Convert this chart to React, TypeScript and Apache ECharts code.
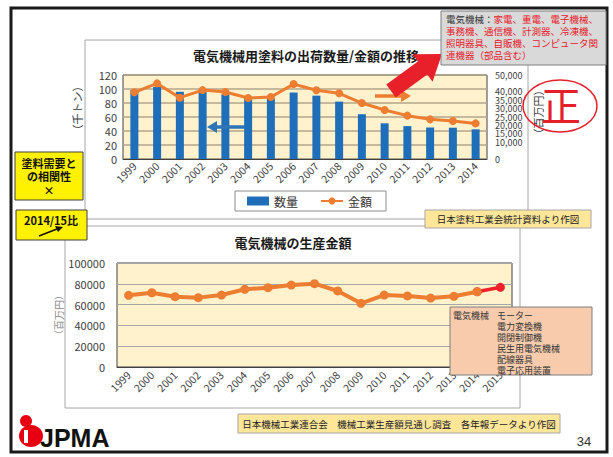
import React, { useEffect, useRef } from "react";
import * as echarts from "echarts";

const years1 = ["1999","2000","2001","2002","2003","2004","2005","2006","2007","2008","2009","2010","2011","2012","2013","2014"];
const quantity = [98.6, 103, 96, 96, 92.4, 86.7, 86.7, 95, 90.5, 82, 64, 51, 47, 45, 44.7, 42.4];
const amount = [39700, 45000, 36500, 41000, 39900, 36300, 36900, 44600, 40900, 39100, 33300, 29200, 25800, 23600, 22600, 21200];
const years2 = [...years1, "2015"];
const production = [68900, 71400, 67600, 66700, 69200, 74700, 76300, 78800, 80100, 73100, 61200, 69200, 68300, 66300, 68000, 72400, 76600];

const FONT = "'Noto Sans CJK JP', 'Noto Sans', sans-serif";
const AX = "#404040";

function txt(x: number, y: number, text: string, o: any = {}) {
  const { rotation, z, ...style } = o;
  return {
    type: "text", x, y, rotation: rotation || 0, z: z ?? 100,
    style: {
      text, fontFamily: FONT, fontSize: 12, fill: "#222",
      align: "center", verticalAlign: "middle",
      textAlign: "center", textVerticalAlign: "middle",
      ...style,
    },
  };
}
function rect(x: number, y: number, w: number, h: number, fill: string, stroke: string, lw = 1, z = 90) {
  return { type: "rect", z, shape: { x, y, width: w, height: h }, style: { fill, stroke, lineWidth: lw } };
}
function line(x1: number, y1: number, x2: number, y2: number, stroke: string, lw = 1, z = 1) {
  return { type: "line", z, shape: { x1, y1, x2, y2 }, style: { stroke, lineWidth: lw } };
}

export default function App() {
  const ref = useRef<HTMLDivElement>(null);
  useEffect(() => {
    if (!ref.current) return;
    const chart = echarts.init(ref.current, null, { renderer: "svg" });

    // big red arrow polygon
    const T = [391, 91], tip = [442, 54];
    const dx = tip[0] - T[0], dy = tip[1] - T[1];
    const L = Math.hypot(dx, dy);
    const u = [dx / L, dy / L], n = [-u[1], u[0]];
    const hl = 24, sw = 8, hw = 17;
    const B = [tip[0] - hl * u[0], tip[1] - hl * u[1]];
    const P = (p: number[], k: number) => [p[0] + k * n[0], p[1] + k * n[1]];
    const arrowPts = [P(T, sw), P(B, sw), P(B, hw), tip, P(B, -hw), P(B, -sw), P(T, -sw)];

    const graphics: any[] = [
      // slide border
      { type: "rect", z: 0, shape: { x: 11, y: 8, width: 596, height: 444 }, style: { fill: "none", stroke: "#1a1a1a", lineWidth: 3 } },
      // chart frames
      line(85, 40, 441, 40, "#A6A6A6"),
      line(85, 40, 85, 219, "#A6A6A6"),
      line(85, 219, 425, 219, "#A6A6A6"),
      line(528, 65, 528, 210, "#A6A6A6"),
      line(65, 226, 425, 226, "#A6A6A6"),
      line(65, 226, 65, 408, "#A6A6A6"),
      line(65, 408, 520, 408, "#A6A6A6"),
      line(520, 228, 520, 408, "#A6A6A6"),
      // titles
      txt(306, 55, "電気機械用塗料の出荷数量/金額の推移", { fontSize: 13, fontWeight: "bold", fill: "#1a1a1a" }),
      txt(293, 242, "電気機械の生産金額", { fontSize: 13, fontWeight: "bold", fill: "#1a1a1a" }),
      // axis names
      txt(77, 108, "（千トン）", { fontSize: 11, fill: AX, rotation: Math.PI / 2 }),
      txt(538, 112, "（百万円）", { fontSize: 11, fill: AX, rotation: Math.PI / 2 }),
      txt(58, 315, "（百万円）", { fontSize: 10, fill: "#8a8a8a", rotation: Math.PI / 2 }),
      // blue arrow
      line(245, 127, 215, 127, "#2E75B6", 3.5, 100),
      { type: "polygon", z: 100, shape: { points: [[207, 127], [217, 121], [217, 133]] }, style: { fill: "#2E75B6" } },
      // orange arrow
      line(375, 96, 402, 96, "#ED7D31", 3.5, 100),
      { type: "polygon", z: 100, shape: { points: [[411, 96], [401, 90], [401, 102]] }, style: { fill: "#ED7D31" } },
      // red big arrow
      { type: "polygon", z: 100, shape: { points: arrowPts }, style: { fill: "#E8202A" } },
      // top annotation box
      rect(441, 11, 165, 54, "#D9D9D9", "#7F7F7F", 1, 110),
      {
        type: "text", z: 111, x: 446, y: 13,
        style: {
          text: "{k|電気機械：}{r|家電、重電、電子機械、}\n{r|事務機、通信機、計測器、冷凍機、}\n{r|照明器具、自販機、コンピュータ関}\n{r|連機器（部品含む）}",
          fontFamily: FONT, fontSize: 9.5, lineHeight: 12,
          rich: {
            k: { fill: "#333", fontFamily: FONT, fontSize: 9.5, lineHeight: 12 },
            r: { fill: "#E5202A", fontFamily: FONT, fontSize: 9.5, lineHeight: 12 },
          },
        },
      },
      // 正 stamp
      { type: "ellipse", z: 100, shape: { cx: 560, cy: 106, rx: 37, ry: 26 }, style: { fill: "none", stroke: "#E5202A", lineWidth: 1.5 } },
      txt(561, 104, "正", { fontSize: 40, fill: "#E5202A" }),
      // left yellow boxes
      rect(15, 152, 68, 48, "#FFF200", "#404040", 1, 100),
      txt(49, 163, "塗料需要と", { fontSize: 11, fontWeight: "bold", fill: "#111", z: 101 }),
      txt(49, 176, "の相関性", { fontSize: 11, fontWeight: "bold", fill: "#111", z: 101 }),
      txt(49, 190, "×", { fontSize: 11, fontWeight: "bold", fill: "#111", z: 101 }),
      rect(16, 210, 71, 30, "#FFF200", "#404040", 1, 100),
      txt(51, 220, "2014/15比", { fontSize: 11, fontWeight: "bold", fill: "#111", z: 101 }),
      line(39, 236, 57, 229, "#111", 1.5, 101),
      { type: "polygon", z: 101, shape: { points: [[63, 227], [55, 226], [58, 232]] }, style: { fill: "#111" } },
      // source boxes
      rect(425, 210, 166, 18, "#FFE699", "#A6A6A6", 1, 100),
      txt(508, 219, "日本塗料工業会統計資料より作図", { fontSize: 9.5, fill: "#222", z: 101 }),
      rect(238, 414, 322, 19, "#FFE699", "#A6A6A6", 1, 100),
      txt(399, 423.5, "日本機械工業連合会　機械工業生産額見通し調査　各年報データより作図", { fontSize: 9.5, fill: "#222", z: 101 }),
      // bottom annotation box
      rect(450, 307, 142, 68, "#F8CBAD", "#7F7F7F", 1, 110),
      { type: "text", z: 111, x: 453, y: 310, style: { text: "電気機械", fontFamily: FONT, fontSize: 9, fill: "#333", lineHeight: 11 } },
      { type: "text", z: 111, x: 497, y: 310, style: { text: "モーター\n電力変換機\n開閉制御機\n民生用電気機械\n配線器具\n電子応用装置", fontFamily: FONT, fontSize: 9, fill: "#333", lineHeight: 11 } },
      // logo
      { type: "circle", z: 100, shape: { cx: 26, cy: 421, r: 6 }, style: { fill: "#E60012" } },
      { type: "ellipse", z: 100, shape: { cx: 31, cy: 436, rx: 12, ry: 11 }, style: { fill: "#E60012" } },
      { type: "rect", z: 101, shape: { x: 24, y: 430, width: 4, height: 13 }, style: { fill: "#fff" } },
      { type: "text", z: 102, x: 40, y: 438, style: { text: "JPMA", fontFamily: "'Liberation Sans', Arial, sans-serif", fontSize: 25, fontWeight: "bold", fill: "#111", align: "left", verticalAlign: "middle", textAlign: "left", textVerticalAlign: "middle" } },
      txt(584, 441, "34", { fontSize: 13, fill: "#333", fontFamily: "'Liberation Sans', sans-serif" }),
    ];

    chart.setOption({
      animation: false,
      backgroundColor: "#ffffff",
      textStyle: { fontFamily: FONT },
      grid: [
        { left: 123, top: 75, width: 364, height: 84, show: true, backgroundColor: "#FFF2CC", borderColor: "#404040", borderWidth: 1 },
        { left: 117, top: 263, width: 395, height: 104, show: true, backgroundColor: "#FFF2CC", borderColor: "#404040", borderWidth: 1 },
      ],
      legend: {
        left: 235, top: 191, width: 147, padding: [4, 14, 4, 12], itemGap: 22,
        borderColor: "#8c8c8c", borderWidth: 1, backgroundColor: "#fff",
        itemWidth: 22, itemHeight: 9,
        textStyle: { fontSize: 12, color: "#333", fontFamily: FONT },
        data: [{ name: "数量", icon: "rect" }, { name: "金額" }],
      },
      xAxis: [
        {
          type: "category", gridIndex: 0, data: years1,
          axisTick: { show: false }, axisLine: { lineStyle: { color: AX } },
          axisLabel: { rotate: 45, interval: 0, fontSize: 10.5, color: AX, margin: 5 },
        },
        {
          type: "category", gridIndex: 1, data: years2,
          axisTick: { show: false }, axisLine: { lineStyle: { color: AX } },
          axisLabel: { rotate: 45, interval: 0, fontSize: 10.5, color: AX, margin: 6 },
        },
      ],
      yAxis: [
        {
          type: "value", gridIndex: 0, min: 0, max: 120, interval: 20,
          axisLine: { show: false }, axisTick: { show: false },
          axisLabel: { fontSize: 11, color: AX, margin: 6 },
          splitLine: { lineStyle: { color: "#B3A48A", width: 1.5 } },
        },
        {
          type: "value", gridIndex: 0, min: 0, max: 50000, interval: 5000, position: "right",
          axisLine: { show: false }, axisTick: { show: false }, splitLine: { show: false },
          axisLabel: {
            fontSize: 9, color: AX, margin: 8, lineHeight: 8,
            showMinLabel: true, showMaxLabel: true, hideOverlap: false,
            formatter: (v: number) => v.toLocaleString("en-US"),
          },
        },
        {
          type: "value", gridIndex: 1, min: 0, max: 100000, interval: 20000,
          axisLine: { show: false }, axisTick: { show: false },
          axisLabel: { fontSize: 11, color: AX, margin: 12, formatter: (v: number) => String(v) },
          splitLine: { lineStyle: { color: "#A6A6A6", width: 1 } },
        },
      ],
      series: [
        {
          name: "数量", type: "bar", xAxisIndex: 0, yAxisIndex: 0, data: quantity,
          barWidth: 8, itemStyle: { color: "#1F6EBA" },
        },
        {
          name: "金額", type: "line", xAxisIndex: 0, yAxisIndex: 1, data: amount,
          symbol: "circle", symbolSize: 8, lineStyle: { width: 3, color: "#ED7D31" },
          itemStyle: { color: "#ED7D31" },
        },
        {
          name: "生産金額2015", type: "line", xAxisIndex: 1, yAxisIndex: 2, z: 2,
          data: production.map((v, i) => (i >= production.length - 2 ? v : "-")),
          symbol: "circle", symbolSize: 9, lineStyle: { width: 3.5, color: "#F0202A" },
          itemStyle: { color: "#F0202A" },
        },
        {
          name: "生産金額", type: "line", xAxisIndex: 1, yAxisIndex: 2, z: 3,
          data: production.map((v, i) => (i < production.length - 1 ? v : "-")),
          symbol: "circle", symbolSize: 9, lineStyle: { width: 4, color: "#ED7D31" },
          itemStyle: { color: "#ED7D31" },
        },
      ],
      graphic: { elements: graphics },
    });
    return () => chart.dispose();
  }, []);
  return (
    <div
      ref={ref}
      style={{ position: "fixed", left: 0, top: 0, width: 613, height: 457, background: "#fff" }}
    />
  );
}
